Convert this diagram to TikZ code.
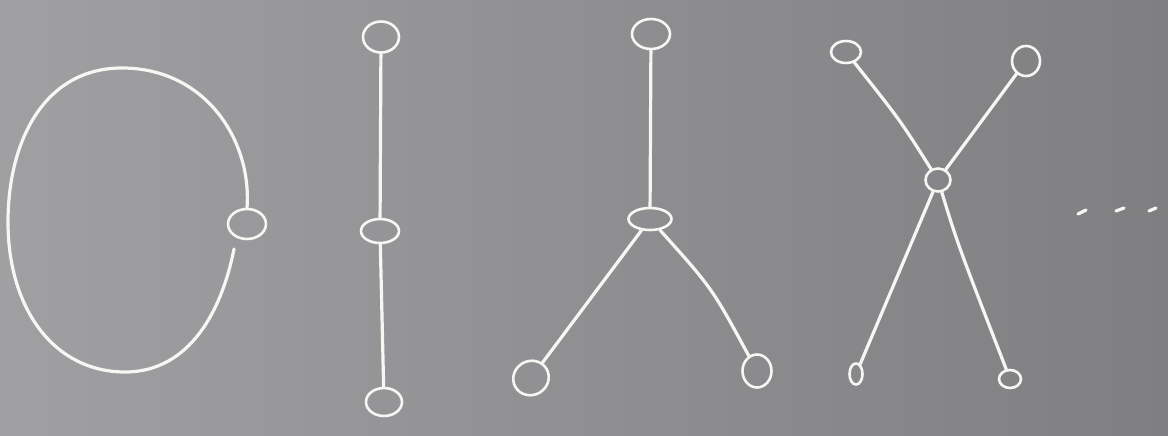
\documentclass[tikz,border=0pt]{standalone}
\usepackage{tikz}
\usetikzlibrary{shapes.geometric}
\definecolor{board-left}{RGB}{160, 160, 163}
\definecolor{board-right}{RGB}{127, 127, 130}
\definecolor{chalk}{RGB}{246, 246, 242}
\tikzset{
  vtx/.style={ellipse, draw=chalk, line width=2.6pt, inner sep=0pt},
  chalkline/.style={draw=chalk, line width=3.2pt, line cap=round}
}

\begin{document}
\begin{tikzpicture}[x=1pt, y=-1pt]
        % Board
        \shade[left color=board-left, right color=board-right] (0,0) rectangle (1168,436);
        \useasboundingbox (0,0) rectangle (1168,436);
        % Loop on one vertex
        \node[vtx, minimum width=38pt, minimum height=30pt] (lv) at (247,224) {};
        \coordinate (lend) at (234,249);
        \draw[chalkline] (lv.north) .. controls (252,140) and (205,68) .. (122,68)
              .. controls (45,68) and (8,140) .. (8,222)
              .. controls (8,310) and (55,372) .. (125,372)
              .. controls (190,372) and (222,310) .. (lend);
        % Path on three vertices
        \node[vtx, minimum width=36pt, minimum height=31pt] (pa) at (381,37) {};
        \node[vtx, minimum width=38pt, minimum height=24pt] (pb) at (380,231) {};
        \node[vtx, minimum width=36pt, minimum height=28pt] (pc) at (384,402) {};
        \draw[chalkline] (pa) -- (pb);
        \draw[chalkline] (pb) -- (pc);
        % Star with three leaves
        \node[vtx, minimum width=38pt, minimum height=30pt] (ya) at (651,34) {};
        \node[vtx, minimum width=43pt, minimum height=22pt] (yb) at (650,219) {};
        \node[vtx, minimum width=36pt, minimum height=34pt, rotate=30] (yc) at (531,378) {};
        \node[vtx, minimum width=29pt, minimum height=33pt] (yd) at (757,371) {};
        \draw[chalkline] (ya) -- (yb);
        \draw[chalkline] (yb) -- (yc);
        \draw[chalkline] (yb) .. controls (712,288) .. (yd);
        % Star with four leaves
        \node[vtx, minimum width=30pt, minimum height=22pt] (xa) at (846,52) {};
        \node[vtx, minimum width=28pt, minimum height=30pt] (xb) at (1026,61) {};
        \node[vtx, minimum width=25pt, minimum height=23pt] (xc) at (938,180) {};
        \node[vtx, minimum width=13pt, minimum height=21pt] (xd) at (856,374) {};
        \node[vtx, minimum width=22pt, minimum height=18pt] (xe) at (1010,379) {};
        \draw[chalkline] (xa) .. controls (900,120) .. (xc);
        \draw[chalkline] (xb) -- (xc);
        \draw[chalkline] (xc) -- (xd);
        \draw[chalkline] (xc) .. controls (958,245) .. (xe);
        % Dots
        \coordinate (da) at (1078,214);
        \coordinate (db) at (1116,211);
        \coordinate (dc) at (1149,211);
        \draw[chalkline] (da) -- ++(8,-4);
        \draw[chalkline] (db) -- ++(8,-3);
        \draw[chalkline] (dc) -- ++(7,-3);
    \end{tikzpicture}
\end{document}
